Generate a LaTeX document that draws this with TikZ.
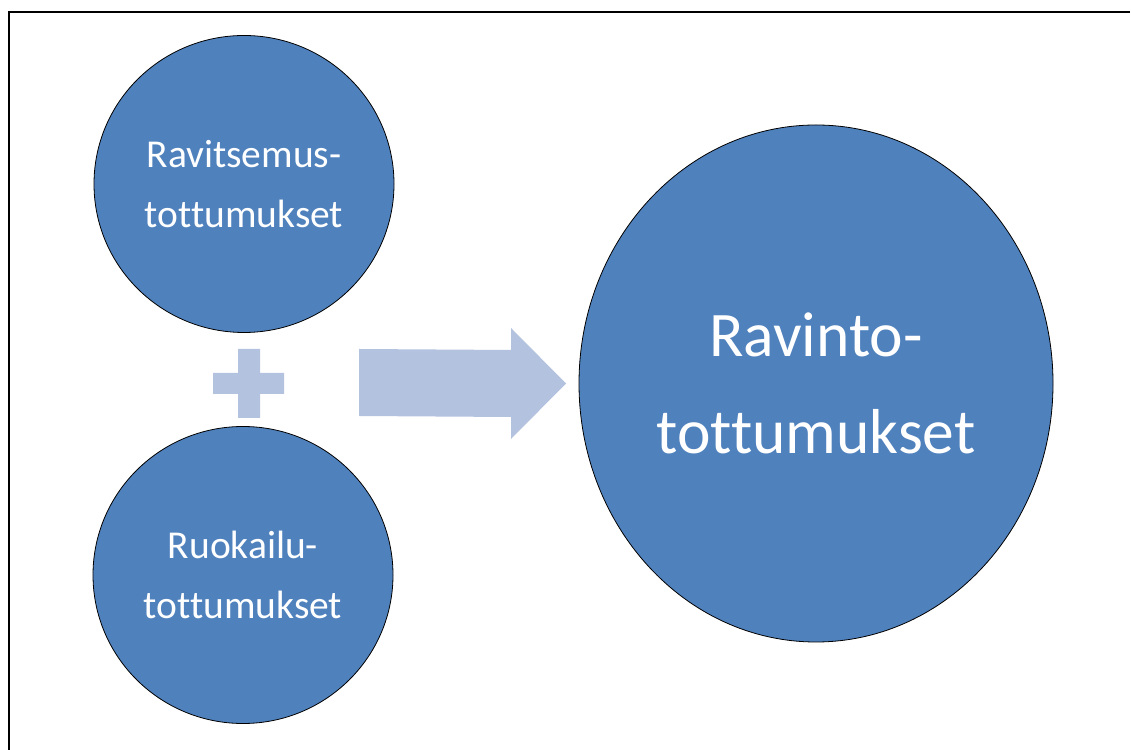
\documentclass[tikz,border=0pt]{standalone}
\usepackage{fontspec}
\setmainfont{Carlito}[RawFeature={-liga}]
\usetikzlibrary{shapes.geometric}
\definecolor{circblue}{RGB}{79,129,189}
\definecolor{lightblue}{RGB}{179,194,222}
\tikzset{
  circ/.style={ellipse, draw=black, line width=0.8pt, fill=circblue, text=white, align=center, inner sep=0pt},
  small/.style={circ, minimum width=300pt, minimum height=297pt, font=\fontsize{39.5}{60}\selectfont},
  big/.style={circ, minimum width=474pt, minimum height=517pt, font=\fontsize{63.5}{97}\selectfont},
  shapefill/.style={fill=lightblue, draw=none}
}
\begin{document}
\begin{tikzpicture}[x=1pt,y=1pt]
\useasboundingbox (0,0) rectangle (1131,749);
% frame
\draw[line width=2pt] (1130,736.5) -- (8.5,736.5) -- (8.5,-5);
% circles
\node[small] (top) at (244,565) {Ravitsemus-\\tottumukset};
\node[small] (bot) at (243,174) {Ruokailu-\\tottumukset};
\node[big] (res) at (816,365.5) {Ravinto-\\tottumukset};
% plus
\fill[shapefill] (238,400) -- (260,400) -- (260,376) -- (284,376) -- (284,355) -- (260,355) -- (260,331) -- (238,331) -- (238,355) -- (213,355) -- (213,376) -- (238,376) -- cycle;
% arrow
\fill[shapefill] (359,400) -- (511,399) -- (511,421) -- (566,365.5) -- (511,310) -- (511,332) -- (359,333) -- cycle;
\end{tikzpicture}
\end{document}
